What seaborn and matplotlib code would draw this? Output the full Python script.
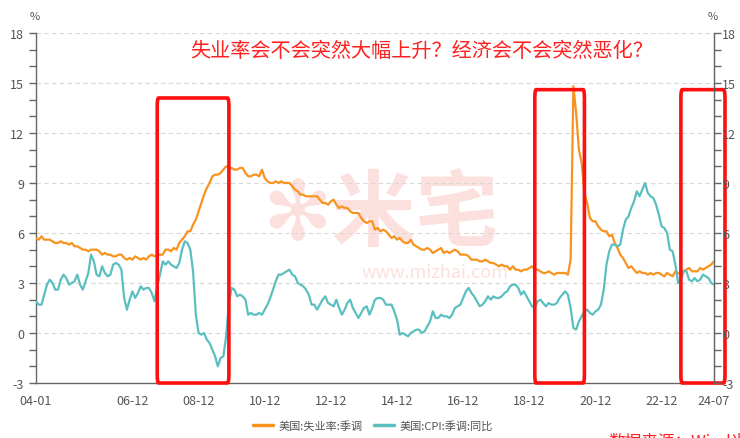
import numpy as np
import pandas as pd
import seaborn as sns
import matplotlib.pyplot as plt
from matplotlib.patches import FancyBboxPatch

# monthly data, 2004-01 .. 2024-07
unemployment = [
    5.7, 5.6, 5.8, 5.6, 5.6, 5.6, 5.5, 5.4, 5.4, 5.5, 5.4, 5.4,
    5.3, 5.4, 5.2, 5.2, 5.1, 5.0, 5.0, 4.9, 5.0, 5.0, 5.0, 4.9,
    4.7, 4.8, 4.7, 4.7, 4.6, 4.6, 4.7, 4.7, 4.5, 4.4, 4.5, 4.4,
    4.6, 4.5, 4.4, 4.5, 4.4, 4.6, 4.7, 4.6, 4.7, 4.7, 4.7, 5.0,
    5.0, 4.9, 5.1, 5.0, 5.4, 5.6, 5.8, 6.1, 6.1, 6.5, 6.8, 7.3,
    7.8, 8.3, 8.7, 9.0, 9.4, 9.5, 9.5, 9.6, 9.8, 10.0, 9.9, 9.9,
    9.8, 9.8, 9.9, 9.9, 9.6, 9.4, 9.4, 9.5, 9.5, 9.4, 9.8, 9.3,
    9.1, 9.0, 9.0, 9.1, 9.0, 9.1, 9.0, 9.0, 9.0, 8.8, 8.6, 8.5,
    8.3, 8.3, 8.2, 8.2, 8.2, 8.2, 8.2, 8.0, 7.8, 7.8, 7.7, 7.9,
    8.0, 7.7, 7.5, 7.6, 7.5, 7.5, 7.3, 7.2, 7.2, 7.2, 6.9, 6.7,
    6.6, 6.7, 6.7, 6.2, 6.3, 6.1, 6.2, 6.1, 5.9, 5.7, 5.8, 5.6,
    5.7, 5.5, 5.4, 5.4, 5.6, 5.3, 5.2, 5.1, 5.0, 5.0, 5.1, 5.0,
    4.8, 4.9, 5.0, 5.1, 4.8, 4.9, 4.8, 4.9, 5.0, 4.9, 4.7, 4.7,
    4.7, 4.6, 4.4, 4.4, 4.4, 4.3, 4.3, 4.4, 4.3, 4.2, 4.2, 4.1,
    4.0, 4.1, 4.0, 4.0, 3.8, 4.0, 3.8, 3.8, 3.7, 3.8, 3.8, 3.9,
    4.0, 3.8, 3.8, 3.7, 3.6, 3.6, 3.7, 3.6, 3.5, 3.6, 3.6, 3.6,
    3.6, 3.5, 4.4, 14.8, 13.2, 11.0, 10.2, 8.4, 7.8, 6.9, 6.7, 6.7,
    6.4, 6.2, 6.1, 6.1, 5.8, 5.9, 5.4, 5.1, 4.7, 4.5, 4.2, 3.9,
    4.0, 3.8, 3.6, 3.7, 3.6, 3.6, 3.5, 3.6, 3.5, 3.6, 3.6, 3.5,
    3.4, 3.6, 3.5, 3.4, 3.7, 3.6, 3.5, 3.7, 3.8, 3.9, 3.7, 3.7,
    3.7, 3.9, 3.8, 3.9, 4.0, 4.1, 4.3,
]
cpi_yoy = [
    1.9, 1.7, 1.7, 2.3, 2.9, 3.2, 3.0, 2.6, 2.6, 3.2, 3.5, 3.3,
    2.9, 3.0, 3.1, 3.5, 2.9, 2.6, 3.1, 3.6, 4.7, 4.3, 3.5, 3.4,
    4.0, 3.6, 3.4, 3.5, 4.1, 4.2, 4.1, 3.8, 2.1, 1.4, 2.0, 2.5,
    2.1, 2.4, 2.8, 2.6, 2.7, 2.7, 2.4, 1.9, 2.8, 3.5, 4.3, 4.1,
    4.3, 4.1, 4.0, 3.9, 4.2, 5.0, 5.5, 5.4, 5.0, 3.7, 1.1, 0.0,
    -0.1, 0.0, -0.4, -0.6, -1.0, -1.4, -2.0, -1.5, -1.4, -0.2, 1.8, 2.7,
    2.6, 2.2, 2.3, 2.2, 2.0, 1.1, 1.2, 1.1, 1.1, 1.2, 1.1, 1.4,
    1.7, 2.1, 2.6, 3.1, 3.5, 3.5, 3.6, 3.7, 3.8, 3.5, 3.4, 3.0,
    2.9, 2.8, 2.6, 2.3, 1.7, 1.7, 1.4, 1.7, 2.0, 2.2, 1.8, 1.7,
    1.6, 2.0, 1.5, 1.1, 1.4, 1.8, 2.0, 1.5, 1.2, 0.9, 1.2, 1.5,
    1.6, 1.1, 1.5, 2.0, 2.1, 2.1, 2.0, 1.7, 1.7, 1.7, 1.3, 0.8,
    -0.1, 0.0, -0.1, -0.2, 0.0, 0.1, 0.2, 0.2, 0.0, 0.1, 0.4, 0.7,
    1.3, 0.9, 0.9, 1.1, 1.0, 1.0, 0.9, 1.1, 1.5, 1.6, 1.7, 2.1,
    2.5, 2.7, 2.4, 2.2, 1.9, 1.6, 1.7, 1.9, 2.2, 2.0, 2.2, 2.1,
    2.1, 2.2, 2.4, 2.5, 2.8, 2.9, 2.9, 2.7, 2.3, 2.5, 2.2, 1.9,
    1.6, 1.5, 1.9, 2.0, 1.8, 1.6, 1.8, 1.7, 1.7, 1.8, 2.1, 2.3,
    2.5, 2.3, 1.5, 0.3, 0.2, 0.7, 1.0, 1.3, 1.4, 1.2, 1.1, 1.3,
    1.4, 1.7, 2.6, 4.1, 4.9, 5.3, 5.3, 5.2, 5.3, 6.2, 6.8, 7.0,
    7.5, 7.9, 8.5, 8.2, 8.6, 9.0, 8.4, 8.2, 8.1, 7.7, 7.1, 6.4,
    6.3, 6.0, 5.0, 4.9, 4.1, 3.0, 3.2, 3.7, 3.7, 3.2, 3.1, 3.3,
    3.1, 3.2, 3.5, 3.4, 3.3, 3.0, 2.9,
]
months = pd.period_range('2004-01', periods=len(unemployment), freq='M')
tick_months = ['2004-01'] + [f'{y}-12' for y in range(2004, 2024)] + ['2024-07']
label_months = ['2004-01'] + [f'{y}-12' for y in range(2006, 2023, 2)] + ['2024-07']
y_ticks = [-3, 0, 3, 6, 9, 12, 15, 18]

# highlighted periods (start, end month, box top)
boxes = [('2007-09', '2009-11', 14.1), ('2019-02', '2020-08', 14.6), ('2023-07', '2024-11', 14.6)]

df = pd.DataFrame({'t': np.arange(len(months)),
                   '美国:失业率:季调': unemployment,
                   '美国:CPI:季调:同比': cpi_yoy})
long_df = df.melt(id_vars='t', var_name='series', value_name='value')

sns.set_style('white')
plt.rcParams['font.family'] = ['Noto Sans CJK SC', 'DejaVu Sans']
plt.rcParams['axes.unicode_minus'] = False

orange = '#F7931E'
cyan = '#5CBFBF'
grey = '#555555'
pink = '#FCE0DE'

fig = plt.figure(figsize=(7.4, 4.39), dpi=100)
ax = fig.add_axes([0.0486, 0.1253, 0.9162, 0.7973])


def midx(s):
    return (pd.Period(s, freq='M') - months[0]).n


# watermark, behind the lines
ax.text(0.514, 0.508, '✻米宅', fontsize=60, color=pink, ha='center', va='center',
        fontweight='bold', transform=fig.transFigure, zorder=0)
ax.text(0.588, 0.378, 'www.mizhai.com', fontsize=13, color=pink, ha='center', va='center',
        transform=fig.transFigure, zorder=0)

sns.lineplot(data=long_df, x='t', y='value', hue='series', ax=ax,
             palette=[orange, cyan], linewidth=1.6, legend=False, zorder=3)

ax.set_xlim(0, len(months) - 1)
ax.set_ylim(-3, 18)
ax.set_xticks([midx(m) for m in tick_months])
ax.set_xticklabels([pd.Period(m, freq='M').strftime('%y-%m') if m in label_months else ''
                    for m in tick_months])
ax.set_yticks(y_ticks)
ax.set_yticks(range(-3, 19), minor=True)
ax.set_xlabel('')
ax.set_ylabel('')
ax.grid(axis='y', which='major', color='#D8D8D8', linestyle=(0, (4, 3)), linewidth=0.8)
ax.set_axisbelow(True)
for s in ['left', 'bottom', 'right']:
    ax.spines[s].set_color('#666666')
    ax.spines[s].set_linewidth(1.0)
ax.spines['top'].set_visible(False)
ax.tick_params(axis='both', which='both', direction='out', color='#666666', labelcolor=grey,
               labelsize=9, length=5, width=1)
ax.tick_params(axis='x', pad=3)
ax.patch.set_alpha(0)

ax2 = ax.twinx()
ax2.set_ylim(-3, 18)
ax2.set_yticks(y_ticks)
ax2.set_yticks(range(-3, 19), minor=True)
ax2.tick_params(axis='y', which='both', direction='out', color='#666666', labelcolor=grey,
                labelsize=9, length=5, width=1, pad=1)
for s in ['left', 'bottom', 'top']:
    ax2.spines[s].set_visible(False)
ax2.spines['right'].set_color('#666666')

fig.text(0.047, 0.962, '%', fontsize=8, color=grey, ha='center', va='center')
fig.text(0.963, 0.962, '%', fontsize=8, color=grey, ha='center', va='center')

for start, end, top in boxes:
    x0, x1 = midx(start), midx(end)
    box = FancyBboxPatch((x0, -3), x1 - x0, top + 3, boxstyle='round,pad=0,rounding_size=0.5',
                         fill=False, edgecolor='#FF1010', linewidth=2.6, clip_on=False, zorder=5)
    ax.add_patch(box)

fig.text(0.569, 0.882, '失业率会不会突然大幅上升？经济会不会突然恶化？', fontsize=14.5,
         color='#FF2020', ha='center', va='center', fontweight='light')

handles = [plt.Line2D([], [], color=orange, linewidth=2.5),
           plt.Line2D([], [], color=cyan, linewidth=2.5)]
fig.legend(handles, ['美国:失业率:季调', '美国:CPI:季调:同比'], loc='center',
           bbox_to_anchor=(0.504, 0.028), ncol=2, frameon=False, fontsize=8,
           labelcolor=grey, handlelength=1.8, handletextpad=0.5, columnspacing=1.0)

# source note, cut by the bottom edge as in the original
fig.text(0.822, 0.012, '数据来源：Wind米宅', fontsize=12, color='#FF2020', ha='left', va='top')

fig.savefig('out.png', dpi=100)
